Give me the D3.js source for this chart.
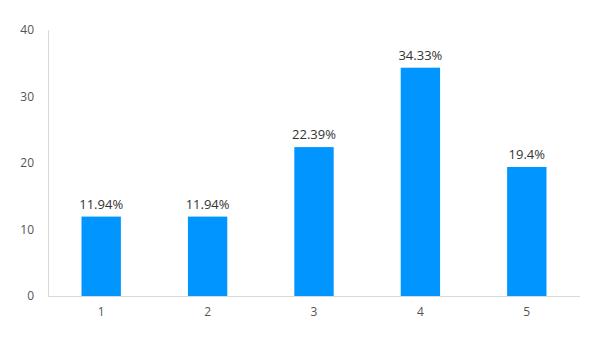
<!DOCTYPE html>
<html>
<head>
<meta charset="utf-8">
<script src="https://cdnjs.cloudflare.com/ajax/libs/d3/7.8.5/d3.min.js"></script>
<style>
  body { margin: 0; background: #fff; }
  text { font-family: "Open Sans", "Noto Sans", sans-serif; }
</style>
</head>
<body>
<div id="chart"></div>
<script>
// chart data
var categories = ["1", "2", "3", "4", "5"]
var values = [11.94, 11.94, 22.39, 34.33, 19.4]
var labels = ["11.94%", "11.94%", "22.39%", "34.33%", "19.4%"]
var yTicks = [0, 10, 20, 30, 40]

var width = 600, height = 340
var margin = {top: 30, right: 20, bottom: 44, left: 48}

var svg = d3.select("#chart").append("svg")
  .attr("width", width).attr("height", height)

var x = d3.scaleBand()
  .domain(categories)
  .range([margin.left, width - margin.right])
  .paddingInner(0.63)
  .paddingOuter(0.315)

var y = d3.scaleLinear()
  .domain([0, 40])
  .range([height - margin.bottom, margin.top])

// y axis line
svg.append("line")
  .attr("x1", margin.left + 0.5).attr("x2", margin.left + 0.5)
  .attr("y1", y(40)).attr("y2", y(0))
  .attr("stroke", "#d9d9d9")

// x axis line
svg.append("line")
  .attr("x1", margin.left).attr("x2", width - margin.right)
  .attr("y1", y(0) + 0.5).attr("y2", y(0) + 0.5)
  .attr("stroke", "#d9d9d9")

svg.selectAll(".ytick")
  .data(yTicks)
  .enter()
  .append("text")
  .attr("class", "ytick")
  .attr("x", 34)
  .attr("y", function(d) { return y(d) })
  .attr("dy", "0.35em")
  .attr("text-anchor", "end")
  .attr("font-size", 12)
  .attr("fill", "#555")
  .text(function(d) { return d })

svg.selectAll(".xtick")
  .data(categories)
  .enter()
  .append("text")
  .attr("class", "xtick")
  .attr("x", function(d) { return x(d) + x.bandwidth() / 2 })
  .attr("y", y(0) + 20)
  .attr("text-anchor", "middle")
  .attr("font-size", 12)
  .attr("fill", "#555")
  .text(function(d) { return d })

svg.selectAll(".bar")
  .data(values)
  .enter()
  .append("rect")
  .attr("class", "bar")
  .attr("x", function(d, i) { return x(categories[i]) })
  .attr("y", function(d) { return y(d) })
  .attr("width", x.bandwidth())
  .attr("height", function(d) { return y(0) - y(d) })
  .attr("fill", "#0095ff")

svg.selectAll(".lbl")
  .data(values)
  .enter()
  .append("text")
  .attr("class", "lbl")
  .attr("x", function(d, i) { return x(categories[i]) + x.bandwidth() / 2 })
  .attr("y", function(d) { return y(d) - 8 })
  .attr("text-anchor", "middle")
  .attr("font-size", 13)
  .attr("fill", "#333")
  .text(function(d, i) { return labels[i] })
</script>
</body>
</html>
